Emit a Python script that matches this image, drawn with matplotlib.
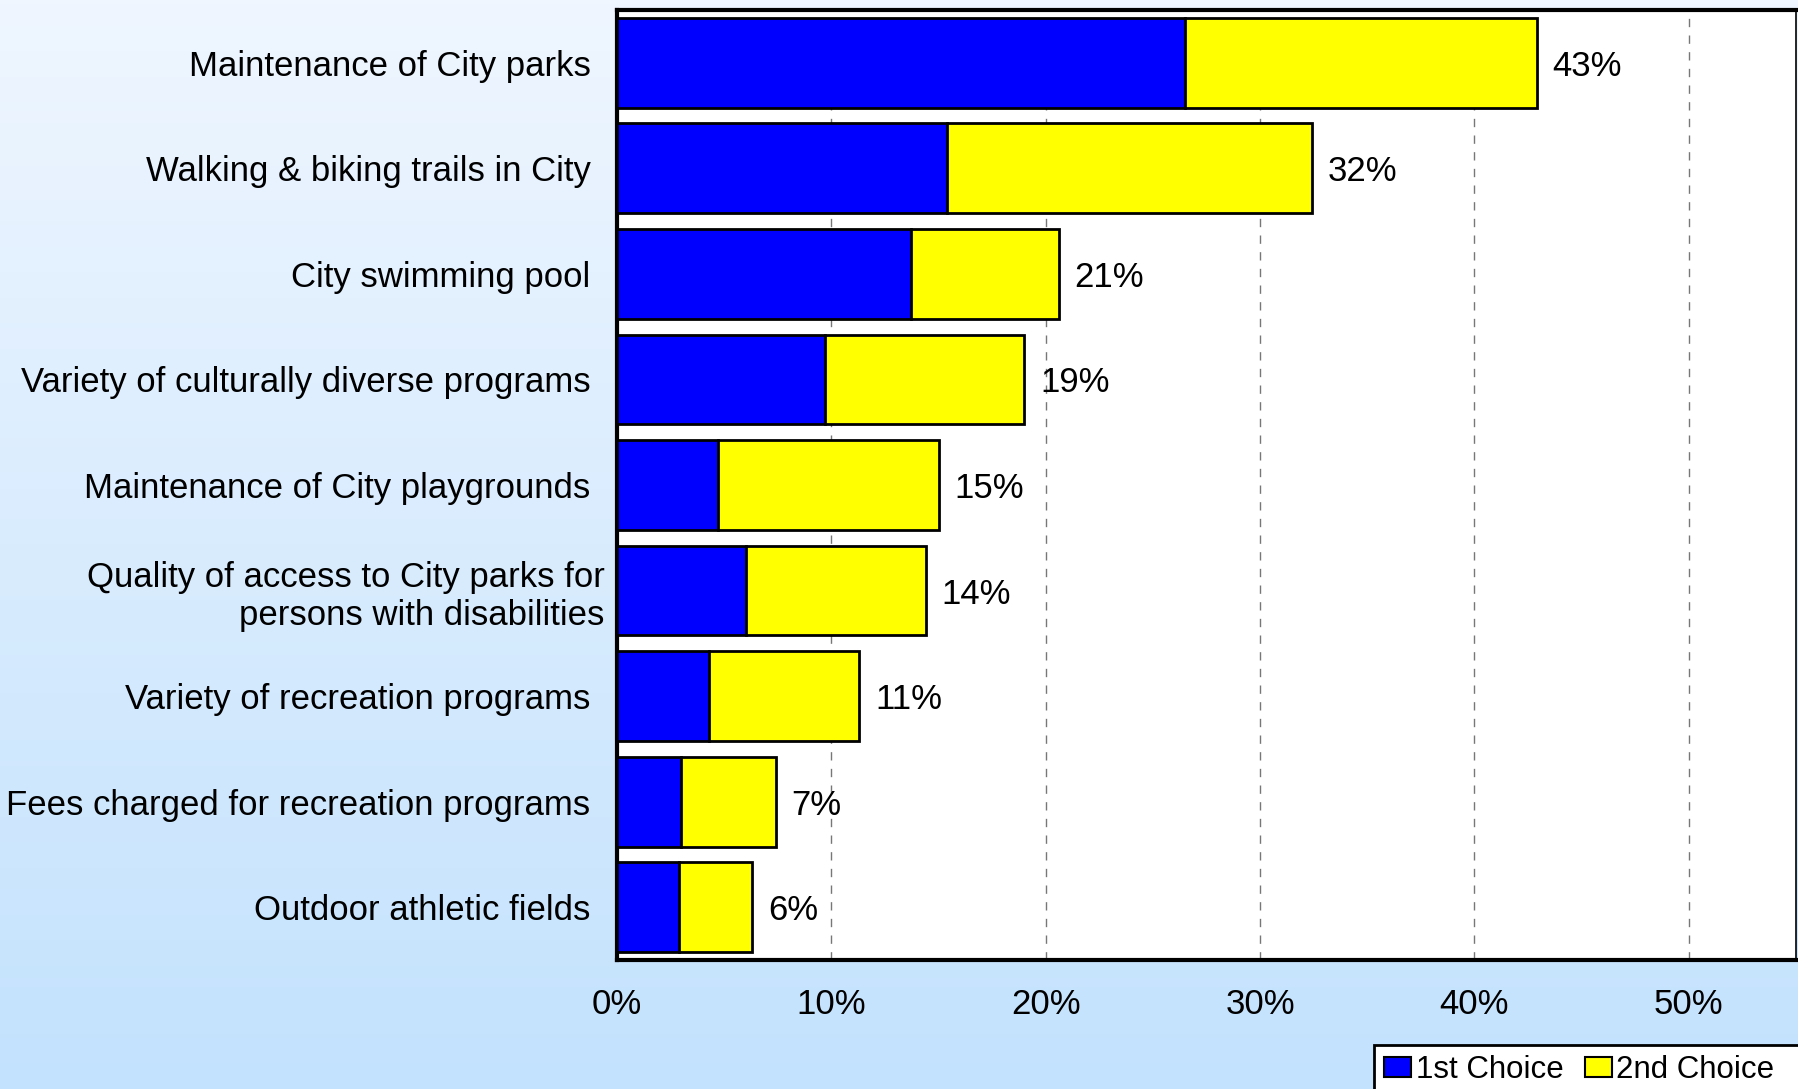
import numpy as np
import matplotlib
matplotlib.use("Agg")
import matplotlib.pyplot as plt
import matplotlib.transforms as mtransforms
from matplotlib.patches import Patch

categories = [
    "Maintenance of City parks",
    "Walking & biking trails in City",
    "City swimming pool",
    "Variety of culturally diverse programs",
    "Maintenance of City playgrounds",
    "Quality of access to City parks for\npersons with disabilities",
    "Variety of recreation programs",
    "Fees charged for recreation programs",
    "Outdoor athletic fields",
]
first_choice = [26.5, 15.4, 13.7, 9.7, 4.7, 6.0, 4.3, 3.0, 2.9]
second_choice = [16.4, 17.0, 6.9, 9.3, 10.3, 8.4, 7.0, 4.4, 3.4]
total_labels = ["43%", "32%", "21%", "19%", "15%", "14%", "11%", "7%", "6%"]
xticks = [0, 10, 20, 30, 40, 50]
xtick_labels = ["0%", "10%", "20%", "30%", "40%", "50%"]

plt.rcParams['font.family'] = ['Liberation Sans', 'DejaVu Sans']
FS = 25

W, H = 1798, 1089
fig = plt.figure(figsize=(W / 100, H / 100), dpi=100)

# background gradient
bg = fig.add_axes([0, 0, 1, 1], zorder=-10)
top = np.array([239, 246, 255]) / 255
bot = np.array([195, 226, 253]) / 255
t = np.linspace(0, 1, 256)[:, None]
grad = top[None, :] * (1 - t) + bot[None, :] * t
bg.imshow(grad[:, None, :], aspect='auto', extent=[0, 1, 0, 1])
bg.set_axis_off()

ax = fig.add_axes([617 / W, 1 - 960 / H, (1796 - 617) / W, (960 - 10) / H])
ax.set_facecolor('white')

y = np.arange(len(categories))
ax.barh(y, first_choice, height=0.85, color='#0000FF', edgecolor='black',
        linewidth=2, zorder=3, label='1st Choice')
ax.barh(y, second_choice, left=first_choice, height=0.85, color='#FFFF00',
        edgecolor='black', linewidth=2, zorder=3, label='2nd Choice')

for yi, f, s, lab in zip(y, first_choice, second_choice, total_labels):
    ax.text(f + s + 0.75, yi, lab, va='center_baseline', ha='left', fontsize=FS, zorder=4)

ax.set_xlim(0, 55)
ax.set_ylim(len(categories) - 0.5, -0.5)
ax.set_yticks(y)
ax.set_yticklabels(categories, fontsize=FS, multialignment='right')
ax.set_xticks(xticks)
ax.set_xticklabels(xtick_labels, fontsize=FS)
ax.tick_params(axis='both', length=0)
ax.tick_params(axis='y', pad=19)
ax.tick_params(axis='x', pad=20)

# two-line label sits slightly further right
lbl = ax.get_yticklabels()[5]
lbl.set_transform(lbl.get_transform() + mtransforms.ScaledTranslation(14 / 100, 0, fig.dpi_scale_trans))

ax.xaxis.grid(True, linestyle=(0, (6, 6)), color='#777777', linewidth=1.0, zorder=0)
ax.set_axisbelow(True)

for side in ['left', 'bottom', 'top']:
    ax.spines[side].set_linewidth(3)
    ax.spines[side].set_color('black')
ax.spines['right'].set_linewidth(1.2)
ax.spines['right'].set_color('black')

handles = [Patch(facecolor='#0000FF', edgecolor='black', linewidth=1.5, label='1st Choice'),
           Patch(facecolor='#FFFF00', edgecolor='black', linewidth=1.5, label='2nd Choice'),
           Patch(facecolor='none', edgecolor='none', label=' ')]
leg = fig.legend(handles=handles, loc='upper left', bbox_to_anchor=(1374 / W, 1 - 1045 / H),
                 ncol=3, fontsize=22.5, frameon=True, fancybox=False, edgecolor='black',
                 framealpha=1, handlelength=0.85, handleheight=0.6, handletextpad=0.15,
                 columnspacing=0.7, borderpad=0.33, borderaxespad=0)
leg.get_frame().set_linewidth(2)

fig.savefig('out.png', dpi=100)
